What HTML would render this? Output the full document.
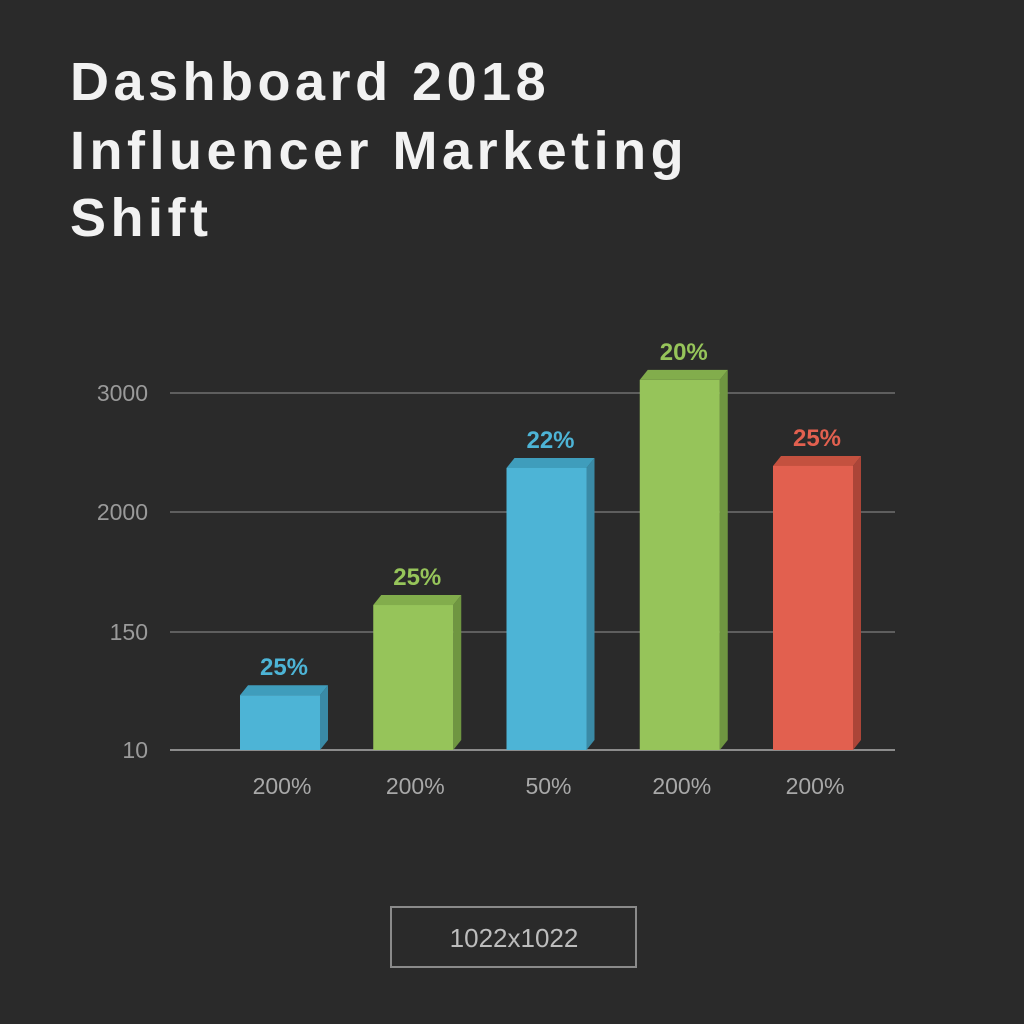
<!DOCTYPE html>
<html><head><meta charset="utf-8"><style>
body{margin:0;background:#2a2a2a;}
svg{display:block;}
</style></head><body>
<svg id="chart" width="1024" height="1024" viewBox="0 0 1024 1024" xmlns="http://www.w3.org/2000/svg">
<rect width="1024" height="1024" fill="#2a2a2a"/>
<g font-family="Liberation Sans, sans-serif" font-weight="bold" font-size="54" letter-spacing="4.5" fill="#f2f2f2">
<text x="70" y="100">Dashboard 2018</text>
<text x="70" y="169">Influencer Marketing</text>
<text x="70" y="236">Shift</text>
</g>
<g id="grid"></g><g id="bars"></g><g id="labels"></g>
<rect x="391" y="907" width="245" height="60" fill="none" stroke="#8a8a8a" stroke-width="2"/>
<text x="514" y="947" text-anchor="middle" font-family="Liberation Sans, sans-serif" font-size="26" fill="#bdbdbd">1022x1022</text>
</svg>
<script>
const categories = ["200%", "200%", "50%", "200%", "200%"];
const values = [75, 566, 2370, 3110, 2387];
const valueLabels = ["25%", "25%", "22%", "20%", "25%"];
const tickValues = [10, 150, 2000, 3000];
const tickLabels = ["10", "150", "2000", "3000"];
const colors = ["#4db4d6", "#96c45a", "#4db4d6", "#96c45a", "#e2604f"];
const sideColors = ["#3a8aa6", "#6f9641", "#3a8aa6", "#6f9641", "#ab4538"];
const topColors = ["#3f9dbc", "#82ad4c", "#3f9dbc", "#82ad4c", "#c4513f"];

const NS = "http://www.w3.org/2000/svg";
const tickPx = [750, 632, 512, 393];
function y(v){
  for(let i=0;i<tickValues.length-1;i++){
    if(v<=tickValues[i+1] || i===tickValues.length-2){
      const t=(v-tickValues[i])/(tickValues[i+1]-tickValues[i]);
      return tickPx[i]+t*(tickPx[i+1]-tickPx[i]);
    }
  }
}
function x(i){ return 240 + i*133.25; }
const bw = 80;
function mk(tag, attrs, parent){ const e=document.createElementNS(NS,tag); for(const k in attrs) e.setAttribute(k,attrs[k]); parent.appendChild(e); return e; }
const grid=document.getElementById('grid'), bars=document.getElementById('bars'), labels=document.getElementById('labels');
tickValues.forEach((v,i)=>{
  const l=mk('line',{x1:170,x2:895,y1:y(v),y2:y(v),stroke:i===0?'#8c8c8c':'#5e5e5e','stroke-width':2},grid);
  
  
  const t=mk('text',{x:148,y:y(v)+8,'text-anchor':'end','font-family':'Liberation Sans, sans-serif','font-size':23,fill:'#9a9a9a'},labels);
  t.textContent=tickLabels[i];
  
  
});
const base=y(tickValues[0]);
values.forEach((v,i)=>{
  const x0=x(i), top=y(v), d=8, h=10;
  const side=mk('polygon',{points:`${x0+bw},${top} ${x0+bw+d},${top-h} ${x0+bw+d},${base-h} ${x0+bw},${base}`,fill:sideColors[i]},bars);
  
  
  const tp=mk('polygon',{points:`${x0},${top} ${x0+d},${top-h} ${x0+bw+d},${top-h} ${x0+bw},${top}`,fill:topColors[i]},bars);
  
  
  const r=mk('rect',{x:x0,y:top,width:bw,height:base-top,fill:colors[i]},bars);
  
  
  const vl=mk('text',{x:x0+bw/2+4,y:top-20,'text-anchor':'middle','font-family':'Liberation Sans, sans-serif','font-weight':'bold','font-size':24,fill:colors[i]},labels);
  vl.textContent=valueLabels[i];
  
  
  const cl=mk('text',{x:x0+bw/2+2,y:794,'text-anchor':'middle','font-family':'Liberation Sans, sans-serif','font-size':23,fill:'#a8a8a8'},labels);
  cl.textContent=categories[i];
  
  
});
</script>
</body></html>
